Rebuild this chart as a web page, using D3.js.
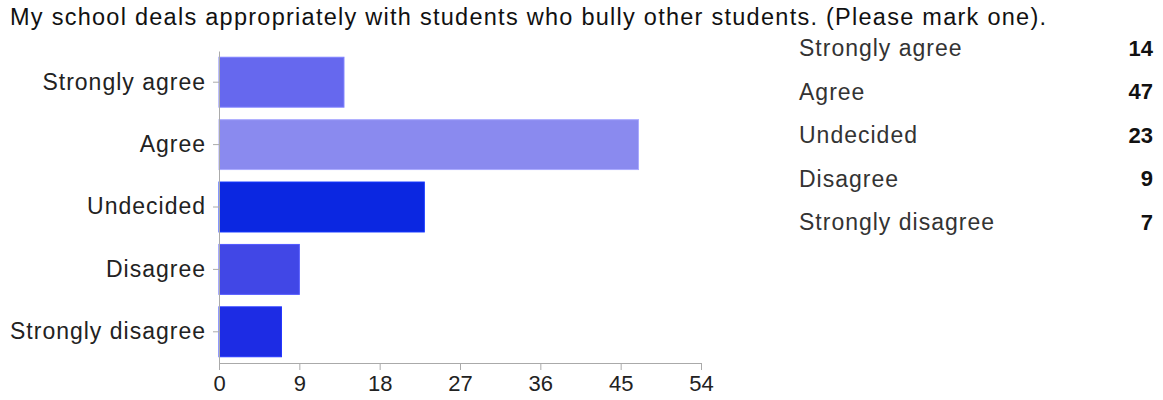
<!DOCTYPE html>
<html>
<head>
<meta charset="utf-8">
<script src="https://cdn.jsdelivr.net/npm/d3@7"></script>
<style>
  body { margin: 0; background: #fff; }
  svg { font-family: "Liberation Sans", Arial, sans-serif; }
</style>
</head>
<body>
<svg id="chart"></svg>
<script>
const categories = ["Strongly agree", "Agree", "Undecided", "Disagree", "Strongly disagree"];
const counts = [14, 47, 23, 9, 7];
const barColors = ["#6668ee", "#8a8aef", "#0b27e1", "#4147e6", "#1d2ce4"];
const xTicks = [0, 9, 18, 27, 36, 45, 54];
const title = "My school deals appropriately with students who bully other students. (Please mark one).";

const width = 1163;
const height = 400;

const svg = d3.select("#chart")
    .attr("width", width)
    .attr("height", height);

// title
svg.append("text")
    .attr("x", 10)
    .attr("y", 25)
    .attr("font-size", 23.5)
    .attr("fill", "#111")
    .attr("textLength", 1036)
    .attr("lengthAdjust", "spacing")
    .text(title);

// scales
const x = d3.scaleLinear()
    .domain([0, 54])
    .range([219, 701]);

const y = d3.scaleBand()
    .domain(categories)
    .range([51, 363])
    .paddingInner(0.2)
    .paddingOuter(0.1);

const data = categories.map((c, i) => ({ cat: c, n: counts[i], color: barColors[i] }));

// bars
svg.selectAll("rect.bar")
    .data(data)
    .enter()
    .append("rect")
    .attr("class", "bar")
    .attr("x", x(0))
    .attr("y", d => y(d.cat))
    .attr("width", d => x(d.n) - x(0))
    .attr("height", y.bandwidth())
    .attr("fill", d => d.color)
    .attr("stroke", d => d3.color(d.color).brighter(0.6))
    .attr("stroke-width", 1);

// x axis
const xAxis = svg.append("g")
    .attr("transform", "translate(0," + 363 + ")")
    .call(d3.axisBottom(x).tickValues(xTicks).tickSize(7).tickSizeOuter(0).tickPadding(5));
xAxis.select(".domain").attr("stroke", "#aaa");
xAxis.selectAll(".tick line").attr("stroke", "#aaa");
xAxis.selectAll(".tick text")
    .attr("font-size", 22)
    .attr("fill", "#222")
    .attr("font-family", "Liberation Sans, Arial, sans-serif");

// y axis
const yAxis = svg.append("g")
    .attr("transform", "translate(" + 219 + ",0)")
    .call(d3.axisLeft(y).tickSize(6).tickSizeOuter(0).tickPadding(7));
yAxis.select(".domain").attr("stroke", "#aaa");
yAxis.selectAll(".tick line").attr("stroke", "#aaa");
yAxis.selectAll(".tick text")
    .attr("font-size", 23)
    .attr("letter-spacing", 1)
    .attr("fill", "#222")
    .attr("font-family", "Liberation Sans, Arial, sans-serif");

// legend table
const legendY = d3.scalePoint()
    .domain(categories)
    .range([48, 222]);

const legend = svg.append("g");
legend.selectAll("text.lab")
    .data(data)
    .enter()
    .append("text")
    .attr("class", "lab")
    .attr("x", 799)
    .attr("y", d => legendY(d.cat))
    .attr("dy", "0.35em")
    .attr("font-size", 23)
    .attr("letter-spacing", 1)
    .attr("fill", "#333")
    .text(d => d.cat);

legend.selectAll("text.val")
    .data(data)
    .enter()
    .append("text")
    .attr("class", "val")
    .attr("x", 1153)
    .attr("y", d => legendY(d.cat))
    .attr("dy", "0.35em")
    .attr("text-anchor", "end")
    .attr("font-size", 22)
    .attr("font-weight", "bold")
    .attr("fill", "#111")
    .text(d => d.n);
</script>
</body>
</html>
